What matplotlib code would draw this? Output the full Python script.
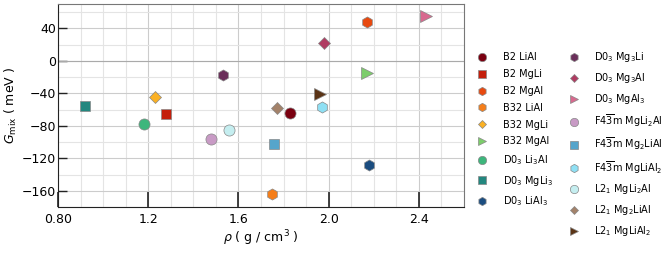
import matplotlib
matplotlib.use("Agg")
import matplotlib.pyplot as plt
import numpy as np

plt.rcParams['mathtext.default'] = 'regular'

# phases / compounds
labels = [r'B2 LiAl', r'B2 MgLi', r'B2 MgAl',
          r'B32 LiAl', r'B32 MgLi', r'B32 MgAl',
          r'D0$_3$ Li$_3$Al', r'D0$_3$ MgLi$_3$', r'D0$_3$ LiAl$_3$',
          r'D0$_3$ Mg$_3$Li', r'D0$_3$ Mg$_3$Al', r'D0$_3$ MgAl$_3$',
          r'F4$\overline{3}$m MgLi$_2$Al', r'F4$\overline{3}$m Mg$_2$LiAl', r'F4$\overline{3}$m MgLiAl$_2$',
          r'L2$_1$ MgLi$_2$Al', r'L2$_1$ Mg$_2$LiAl', r'L2$_1$ MgLiAl$_2$']
rho = [1.83, 1.28, 2.17,
       1.75, 1.23, 2.17,
       1.18, 0.92, 2.18,
       1.53, 1.98, 2.43,
       1.48, 1.76, 1.97,
       1.56, 1.77, 1.96]
gmix = [-64, -66, 48,
        -164, -45, -15,
        -78, -56, -128,
        -18, 22, 55,
        -96, -102, -57,
        -85, -58, -41]
markers = ['o', 's', 'h', 'h', 'D', '>', 'o', 's', 'h',
           'h', 'D', '>', 'o', 's', 'h', 'o', 'D', '>']
colors = ['#7a0010', '#c41f0c', '#e8490f', '#f57e1a', '#fbb124', '#7ccd6b',
          '#3db67c', '#23877f', '#1b4d80', '#6a2f5a', '#b03c62', '#d8698f',
          '#c89ac5', '#56a5cb', '#8fe0f4', '#c5eef0', '#a3826a', '#5b3416']
sizes = [8, 7, 8, 8, 6, 8, 8, 7, 8, 8, 6, 8, 8, 7, 8, 8, 6, 8]

fig = plt.figure(figsize=(6.64, 2.67), dpi=100)
ax = fig.add_axes([0.0873, 0.2247, 0.6114, 0.7603])

for i in range(len(labels)):
    ax.plot(rho[i], gmix[i], linestyle='none', marker=markers[i], color=colors[i],
            markersize=sizes[i], markeredgecolor='#888888', markeredgewidth=0.5,
            label=labels[i], zorder=3)

ax.set_xlim(0.8, 2.6)
ax.set_ylim(-180, 70)
ax.set_xticks([0.8, 1.2, 1.6, 2.0, 2.4])
ax.set_xticklabels(['0.80', '1.2', '1.6', '2.0', '2.4'])
ax.set_xticks(np.arange(0.9, 2.6, 0.1), minor=True)
ax.set_yticks([40, 0, -40, -80, -120, -160])
ax.set_yticks([60, 20, -20, -60, -100, -140, -180], minor=True)
ax.grid(True, which='major', color='#cccccc', linewidth=0.8)
ax.grid(True, which='minor', color='#e4e4e4', linewidth=0.8)
ax.axhline(0, color='#aaaaaa', linewidth=0.8, zorder=1)
ax.set_axisbelow(True)

ax.tick_params(axis='x', which='major', direction='in', length=11, width=1.2,
               color='#222222', labelsize=9, pad=4)
ax.tick_params(axis='y', which='major', direction='in', length=6.5, width=1,
               color='#222222', labelsize=9, pad=1.5)
ax.tick_params(which='minor', length=0)

for s in ['top', 'right']:
    ax.spines[s].set_color('#777777')
ax.spines['left'].set_color('#222222')
ax.spines['bottom'].set_color('#222222')

ax.set_xlabel(r'$\mathit{\rho}$ ( g / cm$^3$ )', fontsize=9, labelpad=2)
ax.set_ylabel(r'$\mathit{G}_{\rm mix}$ ( meV )', fontsize=9, labelpad=2)

ax.legend(loc='center left', bbox_to_anchor=(464 / 664, 0.46),
          bbox_transform=fig.transFigure, ncol=2, frameon=False,
          fontsize=7, handletextpad=1.1, columnspacing=1.15, labelspacing=0.7,
          markerscale=0.75, borderpad=0.4)

fig.savefig('out.png', dpi=100)
